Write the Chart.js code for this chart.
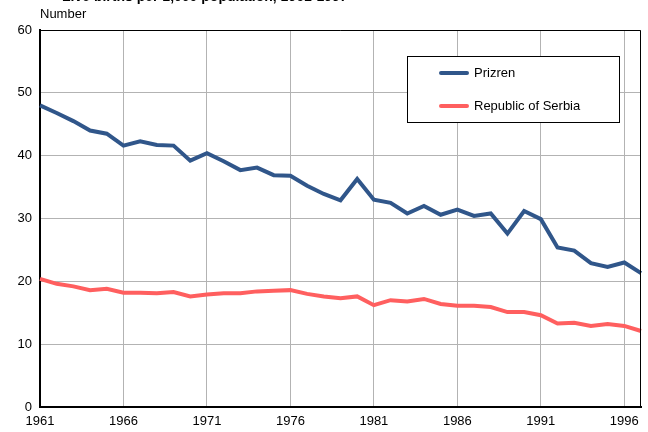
<!DOCTYPE html>
<html>
<head>
<meta charset="utf-8">
<script src="https://cdn.jsdelivr.net/npm/chart.js@4"></script>
<style>
    html, body { margin: 0; padding: 0; background: #fff; }
    #wrap { width: 648px; height: 432px; }
</style>
</head>
<body>
<div id="wrap"><canvas id="birthsChart"></canvas></div>
<script>
// Data
const years = [];
for (let y = 1961; y <= 1997; y++) years.push(String(y));

const prizren = [48.0, 46.8, 45.5, 44.0, 43.5, 41.6, 42.3, 41.7, 41.6, 39.2,
    40.4, 39.1, 37.7, 38.1, 36.9, 36.8, 35.2, 33.9, 32.9, 36.3,
    33.0, 32.5, 30.8, 32.0, 30.6, 31.4, 30.4, 30.8, 27.6, 31.2,
    29.9, 25.4, 24.9, 22.9, 22.3, 23.0, 21.3];

const serbia = [20.4, 19.6, 19.2, 18.6, 18.8, 18.2, 18.2, 18.1, 18.3, 17.6,
    17.9, 18.1, 18.1, 18.4, 18.5, 18.6, 18.0, 17.6, 17.3, 17.6,
    16.2, 17.0, 16.8, 17.2, 16.4, 16.1, 16.1, 15.9, 15.1, 15.1,
    14.6, 13.3, 13.4, 12.9, 13.2, 12.9, 12.1];

const seriesNames = ['Prizren', 'Republic of Serbia'];
const seriesColors = ['#30568a', '#ff5f5f'];

const chartTitle = 'Live births per 1,000 population, 1961-1997';
const yUnit = 'Number';

const FONT = '"Liberation Sans", Arial, sans-serif';

// Title, unit label, frame and boxed legend
const decorPlugin = {
    id: 'decor',
    afterDraw(chart) {
        const ctx = chart.ctx;
        const area = chart.chartArea;
        ctx.save();

        // frame on top and right
        ctx.strokeStyle = '#000';
        ctx.lineWidth = 1;
        ctx.beginPath();
        ctx.moveTo(area.left, area.top + 0.5);
        ctx.lineTo(area.right - 0.5, area.top + 0.5);
        ctx.lineTo(area.right - 0.5, area.bottom);
        ctx.stroke();

        ctx.fillStyle = '#000';
        ctx.font = 'bold 14px ' + FONT;
        ctx.textBaseline = 'alphabetic';
        ctx.textAlign = 'left';
        ctx.fillText(chartTitle, 62, 1);

        ctx.font = '13px ' + FONT;
        ctx.fillText(yUnit, 40, 18);

        // legend box
        const bx = 407, by = 56, bw = 212, bh = 66;
        ctx.fillStyle = '#fff';
        ctx.fillRect(bx, by, bw, bh);
        ctx.strokeStyle = '#000';
        ctx.lineWidth = 1;
        ctx.strokeRect(bx + 0.5, by + 0.5, bw, bh);

        chart.data.datasets.forEach((ds, i) => {
            const ly = 73 + i * 33;
            ctx.strokeStyle = ds.borderColor;
            ctx.lineWidth = 4;
            ctx.lineCap = 'round';
            ctx.beginPath();
            ctx.moveTo(441, ly);
            ctx.lineTo(467, ly);
            ctx.stroke();
            ctx.fillStyle = '#000';
            ctx.font = '13px ' + FONT;
            ctx.textBaseline = 'middle';
            ctx.fillText(ds.label, 474, ly);
        });
        ctx.restore();
    }
};

const ctx = document.getElementById('birthsChart').getContext('2d');
new Chart(ctx, {
    type: 'line',
    data: {
        labels: years,
        datasets: [
            {
                label: seriesNames[0],
                data: prizren,
                borderColor: seriesColors[0],
                borderWidth: 4,
                tension: 0,
                pointRadius: 0,
                fill: false
            },
            {
                label: seriesNames[1],
                data: serbia,
                borderColor: seriesColors[1],
                borderWidth: 4,
                tension: 0,
                pointRadius: 0,
                fill: false
            }
        ]
    },
    options: {
        responsive: true,
        maintainAspectRatio: false,
        animation: false,
        layout: {
            padding: { top: 30, right: 5, left: 0, bottom: 0 }
        },
        scales: {
            x: {
                offset: false,
                border: { color: '#000', width: 2 },
                grid: {
                    drawTicks: false,
                    color: c => (c.index % 5 === 0 ? '#b3b3b3' : 'rgba(0,0,0,0)')
                },
                ticks: {
                    autoSkip: false,
                    maxRotation: 0,
                    padding: 7,
                    color: '#000',
                    font: { family: FONT, size: 13 },
                    callback: function (value, index) {
                        return index % 5 === 0 ? this.getLabelForValue(value) : '';
                    }
                },
                afterFit: scale => { scale.height = 25; }
            },
            y: {
                min: 0,
                max: 60,
                border: { color: '#000', width: 2 },
                grid: { drawTicks: false, color: '#b3b3b3' },
                ticks: {
                    stepSize: 10,
                    padding: 8,
                    color: '#000',
                    font: { family: FONT, size: 13 }
                },
                afterFit: scale => { scale.width = 40; }
            }
        },
        plugins: {
            legend: { display: false },
            title: { display: false },
            tooltip: { enabled: false }
        }
    },
    plugins: [decorPlugin]
});
</script>
</body>
</html>
